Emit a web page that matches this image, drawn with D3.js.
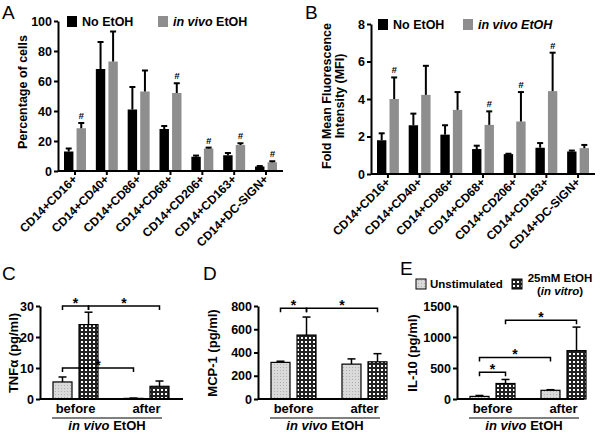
<!DOCTYPE html>
<html><head><meta charset="utf-8">
<script src="https://cdn.jsdelivr.net/npm/d3@7"></script>
<style>
body{margin:0;background:#fff}
svg text{font-family:"Liberation Sans",Arial,Helvetica,sans-serif;}
</style>
</head><body><svg id="c" width="600" height="433"></svg>
<script>
// ---------- DATA ----------
const markers = ["CD14+CD16+","CD14+CD40+","CD14+CD86+","CD14+CD68+","CD14+CD206+","CD14+CD163+","CD14+DC-SIGN+"];
const topSeries = ["No EtOH","in vivo EtOH"];
const aNoEtoh    = [13, 68, 41, 28, 9.5, 10.5, 3];
const aNoEtohErr = [2, 18, 15, 2, 0.8, 1.5, 0.3];
const aInVivo    = [28.5, 73, 53, 52, 15, 17.3, 5.8];
const aInVivoErr = [3.5, 20, 14, 6.5, 0.6, 1.2, 0.7];
const aHash      = [1, 0, 0, 1, 1, 1, 1];
const aTicks = [0, 20, 40, 60, 80, 100];

const bNoEtoh    = [1.8, 2.6, 2.1, 1.33, 1.06, 1.4, 1.2];
const bNoEtohErr = [0.37, 0.62, 0.5, 0.18, 0.02, 0.25, 0.05];
const bInVivo    = [4.0, 4.22, 3.42, 2.62, 2.8, 4.42, 1.38];
const bInVivoErr = [1.15, 1.55, 0.95, 0.72, 1.57, 2.05, 0.17];
const bHash      = [1, 0, 0, 1, 1, 1, 0];
const bTicks = [0, 2, 4, 6, 8];

const timepoints = ["before", "after"];
const stimSeries = ["Unstimulated", "25mM EtOH"];
const tnfUnstim = [5.5, 0.2], tnfUnstimErr = [1.6, 0.1];
const tnfEtoh = [24, 4.1],    tnfEtohErr = [4, 1.7];
const tnfTicks = [0, 10, 20, 30];
const tnfBrackets = [{a:[0,0], b:[0,1], y:30}, {a:[0,1], b:[1,1], y:30}, {a:[0,0], b:[1,0], y:10}];

const mcpUnstim = [315, 300], mcpUnstimErr = [10, 45];
const mcpEtoh = [550, 320],   mcpEtohErr = [155, 70];
const mcpTicks = [0, 200, 400, 600, 800];
const mcpBrackets = [{a:[0,0], b:[0,1], y:780}, {a:[0,1], b:[1,1], y:780}];

const il10Unstim = [42, 140], il10UnstimErr = [15, 10];
const il10Etoh = [250, 780],  il10EtohErr = [65, 380];
const il10Ticks = [0, 500, 1000, 1500];
const il10Brackets = [{a:[0,1], b:[1,1], y:1270}, {a:[0,0], b:[1,0], y:670}, {a:[0,0], b:[0,1], y:430}];

// ---------- DRAW ----------
const svg = d3.select("#c");
const defs = svg.append("defs");
const p1 = defs.append("pattern").attr("id","dots").attr("width",3).attr("height",3).attr("patternUnits","userSpaceOnUse");
p1.append("rect").attr("width",3).attr("height",3).attr("fill","#dadada");
p1.append("rect").attr("x",1).attr("y",1).attr("width",1).attr("height",1).attr("fill","#b0b0b0");
const p2 = defs.append("pattern").attr("id","check").attr("width",4).attr("height",4).attr("patternUnits","userSpaceOnUse");
p2.append("rect").attr("width",4).attr("height",4).attr("fill","#222");
p2.append("rect").attr("x",1).attr("y",1).attr("width",2).attr("height",2).attr("fill","#fff");

function styleAxis(g, fs){
  g.attr("font-family",null).attr("font-size",null);
  g.selectAll(".domain").attr("stroke","#000").attr("stroke-width",2);
  g.selectAll(".tick line").attr("stroke","#000").attr("stroke-width",2);
  g.selectAll(".tick text").attr("fill","#000")
    .style("font-size", (fs||12)+"px").style("font-weight","bold");
}

function letter(t, x, y){
  svg.append("text").attr("x",x).attr("y",y).attr("font-size",19).attr("fill","#000").text(t);
}

function topPanel(cfg){
  const g = svg.append("g");
  const x = d3.scaleBand().domain(markers).range([cfg.x0+6, cfg.x1-6]).paddingInner(0.31);
  const xs = d3.scaleBand().domain(topSeries).range([0, x.bandwidth()]).paddingInner(0.25);
  const y = d3.scaleLinear().domain([0, cfg.max]).range([cfg.y0, cfg.yTop]);
  const series = [{k:topSeries[0], v:cfg.s0, e:cfg.e0, c:"#000"}, {k:topSeries[1], v:cfg.s1, e:cfg.e1, c:"#8e8e8e"}];
  series.forEach(s => {
    const rows = markers.map((m,i)=>({m, v:s.v[i], e:s.e[i]}));
    g.selectAll(null).data(rows).enter().append("rect")
      .attr("x", d=>x(d.m)+xs(s.k)).attr("width", xs.bandwidth())
      .attr("y", d=>y(d.v)).attr("height", d=>y(0)-y(d.v)).attr("fill", s.c);
    const eb = g.selectAll(null).data(rows).enter().append("g")
      .attr("transform", d=>`translate(${x(d.m)+xs(s.k)+xs.bandwidth()/2},0)`);
    eb.append("line").attr("y1",d=>y(d.v)).attr("y2",d=>y(d.v+d.e)).attr("stroke","#000").attr("stroke-width",2);
    eb.append("line").attr("x1",-3).attr("x2",3).attr("y1",d=>y(d.v+d.e)).attr("y2",d=>y(d.v+d.e)).attr("stroke","#000").attr("stroke-width",2);
  });
  const hrows = markers.map((m,i)=>({m, h:cfg.hash[i], top:cfg.s1[i]+cfg.e1[i]})).filter(d=>d.h);
  g.selectAll(null).data(hrows).enter().append("text")
    .attr("x", d=>x(d.m)+xs(topSeries[1])+xs.bandwidth()/2).attr("y", d=>y(d.top)-4)
    .attr("text-anchor","middle").attr("font-size",9.5).attr("font-weight","bold").attr("font-style","italic").text("#");
  const ya = g.append("g").attr("transform",`translate(${cfg.x0},0)`)
    .call(d3.axisLeft(y).tickValues(cfg.ticks).tickSize(4).tickSizeOuter(0).tickPadding(2));
  styleAxis(ya, 12.5);
  const xa = g.append("g").attr("transform",`translate(0,${cfg.y0})`)
    .call(d3.axisBottom(x).tickSize(4).tickSizeOuter(0));
  xa.select(".domain").remove();
  styleAxis(xa, 12);
  xa.selectAll(".tick text").attr("text-anchor","end").attr("dy",null).attr("y",null)
    .attr("transform","translate(3,9) rotate(-45)");
  g.append("line").attr("x1",cfg.x0).attr("x2",cfg.x1).attr("y1",cfg.y0).attr("y2",cfg.y0)
    .attr("stroke","#000").attr("stroke-width",2);
  const yl = g.append("text").attr("transform",`translate(${cfg.labelX},${cfg.labelY}) rotate(-90)`)
    .attr("text-anchor","middle").attr("font-size",12.5).attr("font-weight","bold");
  cfg.label.forEach((l,i)=>yl.append("tspan").attr("x",0).attr("dy", i? 12.5:0).text(l));
  const lg = cfg.legend;
  g.append("rect").attr("x",lg.x0).attr("y",lg.y).attr("width",10).attr("height",11).attr("fill","#000");
  g.append("text").attr("x",lg.x0+15).attr("y",lg.y+10).attr("font-size",12.5).attr("font-weight","bold").text(topSeries[0]);
  g.append("rect").attr("x",lg.x1).attr("y",lg.y).attr("width",10).attr("height",11).attr("fill","#8e8e8e");
  const t2 = g.append("text").attr("x",lg.x1+15).attr("y",lg.y+10).attr("font-size",12.5).attr("font-weight","bold");
  t2.append("tspan").attr("font-style","italic").text("in vivo");
  t2.append("tspan").attr("font-style", lg.allItalic ? "italic" : "normal").text(" EtOH");
}

function bottomPanel(cfg){
  const g = svg.append("g");
  const x = d3.scaleBand().domain(timepoints).range([cfg.x0+13, cfg.x0+129]).paddingInner(0.366);
  const xs = d3.scaleBand().domain(stimSeries).range([0, x.bandwidth()]).paddingInner(0.27);
  const y = d3.scaleLinear().domain([0, cfg.max]).range([399, 306]);
  const series = [{k:stimSeries[0], v:cfg.u, e:cfg.ue, f:"url(#dots)"}, {k:stimSeries[1], v:cfg.s, e:cfg.se, f:"url(#check)"}];
  const cx = (gi, si) => x(timepoints[gi]) + xs(stimSeries[si]) + xs.bandwidth()/2;
  series.forEach(s=>{
    const rows = timepoints.map((t,i)=>({t, v:s.v[i], e:s.e[i]}));
    const eb = g.selectAll(null).data(rows).enter().append("g")
      .attr("transform", d=>`translate(${x(d.t)+xs(s.k)+xs.bandwidth()/2},0)`);
    eb.append("line").attr("y1",d=>y(d.v)).attr("y2",d=>y(d.v+d.e)).attr("stroke","#000").attr("stroke-width",1.5);
    eb.append("line").attr("x1",-4).attr("x2",4).attr("y1",d=>y(d.v+d.e)).attr("y2",d=>y(d.v+d.e)).attr("stroke","#000").attr("stroke-width",1.5);
    g.selectAll(null).data(rows).enter().append("rect")
      .attr("x", d=>x(d.t)+xs(s.k)).attr("width", xs.bandwidth())
      .attr("y", d=>y(d.v)).attr("height", d=>y(0)-y(d.v)).attr("fill", s.f)
      .attr("stroke","#000").attr("stroke-width",1.2);
  });
  cfg.brackets.forEach(b=>{
    const xa = cx(b.a[0], b.a[1]), xb = cx(b.b[0], b.b[1]), yy = y(b.y);
    g.append("path").attr("d",`M${xa},${yy+4}V${yy}H${xb}V${yy+4}`).attr("fill","none")
      .attr("stroke","#000").attr("stroke-width",1.5);
    g.append("text").attr("x",(xa+xb)/2).attr("y",yy+2).attr("text-anchor","middle")
      .attr("font-size",14).attr("font-weight","bold").text("*");
  });
  const ya = g.append("g").attr("transform",`translate(${cfg.x0},0)`)
    .call(d3.axisLeft(y).tickValues(cfg.ticks).tickFormat(d3.format("d")).tickSize(4).tickSizeOuter(0).tickPadding(2));
  styleAxis(ya, 12.5);
  g.append("line").attr("x1",cfg.x0).attr("x2",cfg.x0+cfg.len).attr("y1",399).attr("y2",399)
    .attr("stroke","#000").attr("stroke-width",2);
  g.selectAll(null).data(timepoints).enter().append("text")
    .attr("x", d=>x(d)+x.bandwidth()/2).attr("y",413).attr("text-anchor","middle")
    .attr("font-size",13).attr("font-weight","bold").text(d=>d);
  g.append("line").attr("x1",cfg.x0+12).attr("x2",cfg.x0+122).attr("y1",418).attr("y2",418)
    .attr("stroke","#000").attr("stroke-width",1);
  const t = g.append("text").attr("x",cfg.x0+67).attr("y",430).attr("text-anchor","middle")
    .attr("font-size",13).attr("font-weight","bold");
  t.append("tspan").attr("font-style","italic").text("in vivo");
  t.append("tspan").text(" EtOH");
  g.append("text").attr("transform",`translate(${cfg.labelX},353) rotate(-90)`)
    .attr("text-anchor","middle").attr("font-size",13).attr("font-weight","bold").text(cfg.label);
}

letter("A", 2, 19);
letter("B", 305, 19);
letter("C", 2, 280);
letter("D", 203, 280);
letter("E", 400, 275);

topPanel({x0:58, x1:283, y0:171, yTop:21, max:100, ticks:aTicks, s0:aNoEtoh, e0:aNoEtohErr, s1:aInVivo, e1:aInVivoErr,
  hash:aHash, label:["Percentage of cells"], labelX:27, labelY:92, legend:{x0:67, x1:158, y:16, allItalic:false}});
topPanel({x0:371, x1:595, y0:174, yTop:24, max:8, ticks:bTicks, s0:bNoEtoh, e0:bNoEtohErr, s1:bInVivo, e1:bInVivoErr,
  hash:bHash, label:["Fold Mean Fluorescence","Intensity (MFI)"], labelX:331, labelY:96, legend:{x0:378, x1:463, y:19, allItalic:true}});

bottomPanel({x0:40, len:143, max:30, ticks:tnfTicks, u:tnfUnstim, ue:tnfUnstimErr, s:tnfEtoh, se:tnfEtohErr,
  brackets:tnfBrackets, label:"TNFα (pg/ml)", labelX:18});
bottomPanel({x0:258, len:127, max:800, ticks:mcpTicks, u:mcpUnstim, ue:mcpUnstimErr, s:mcpEtoh, se:mcpEtohErr,
  brackets:mcpBrackets, label:"MCP-1 (pg/ml)", labelX:217});
bottomPanel({x0:457, len:127, max:1500, ticks:il10Ticks, u:il10Unstim, ue:il10UnstimErr, s:il10Etoh, se:il10EtohErr,
  brackets:il10Brackets, label:"IL-10 (pg/ml)", labelX:417});

svg.append("rect").attr("x",416).attr("y",279).attr("width",10).attr("height",10).attr("fill","url(#dots)").attr("stroke","#000").attr("stroke-width",1);
svg.append("text").attr("x",430).attr("y",288).attr("font-size",11.5).attr("font-weight","bold").text(stimSeries[0]);
svg.append("rect").attr("x",512).attr("y",279).attr("width",10).attr("height",10).attr("fill","url(#check)").attr("stroke","#000").attr("stroke-width",1);
svg.append("text").attr("x",560).attr("y",282).attr("text-anchor","middle").attr("font-size",11.5).attr("font-weight","bold").text(stimSeries[1]);
const iv = svg.append("text").attr("x",560).attr("y",295).attr("text-anchor","middle").attr("font-size",11.5).attr("font-weight","bold");
iv.append("tspan").text("(");
iv.append("tspan").attr("font-style","italic").text("in vitro");
iv.append("tspan").text(")");
</script>
</body></html>
